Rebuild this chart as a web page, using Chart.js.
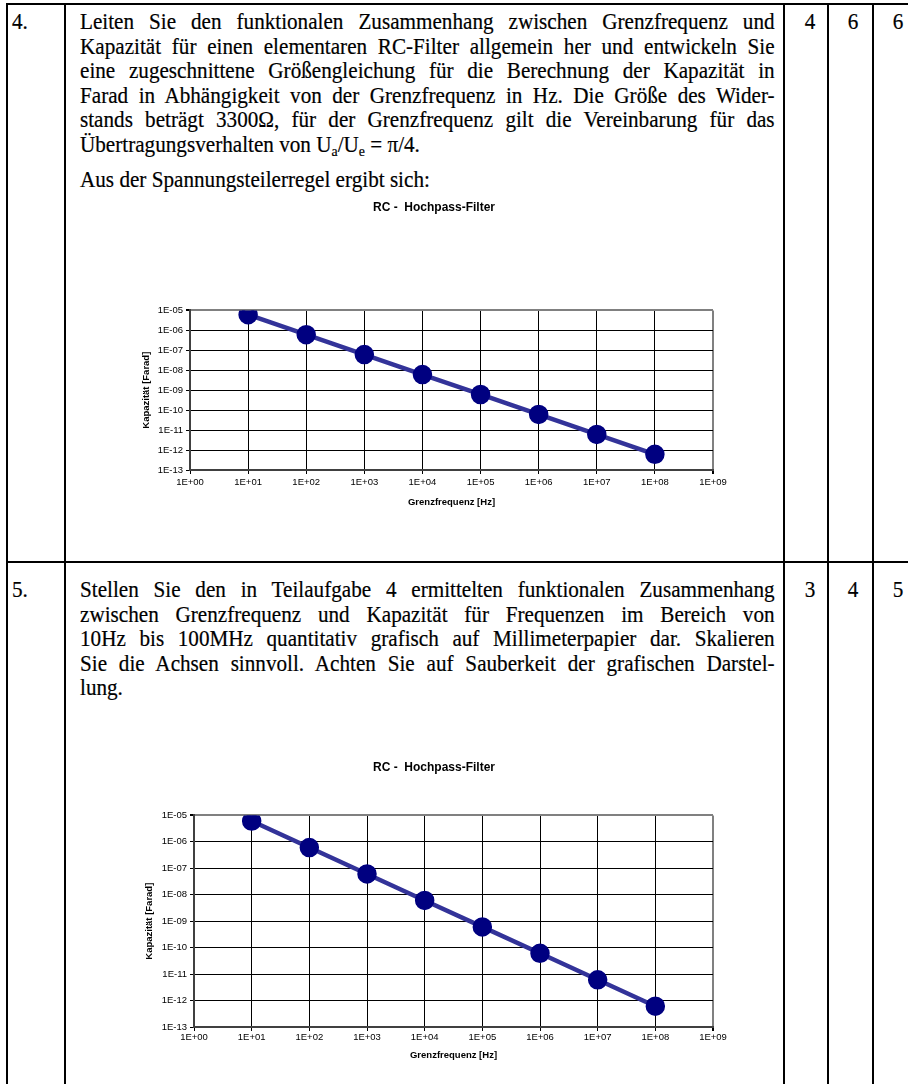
<!DOCTYPE html>
<html>
<head>
<meta charset="utf-8">
<script src="https://cdn.jsdelivr.net/npm/chart.js@4.4.1/dist/chart.umd.min.js"></script>
<style>
  html, body { margin: 0; padding: 0; background: #fff; }
  #page { position: relative; width: 908px; height: 1084px; overflow: hidden;
          font-family: "Liberation Serif", "Times New Roman", serif; font-size: 23px; color: #000;
          -webkit-text-stroke: 0.2px #000; }
  .ln { position: absolute; background: #000; }
  .txt { position: absolute; left: 80px; width: 755px; transform: scaleX(0.92); transform-origin: 0 0; }
  .txt div { height: 24.6px; line-height: 24.6px; text-align: justify; text-align-last: justify; white-space: nowrap; }
  .txt div.last { text-align-last: left; }
  .nr { position: absolute; left: 12px; line-height: 24.6px; transform: scaleX(0.92); transform-origin: 0 0; }
  .num { position: absolute; width: 44px; text-align: center; line-height: 24.6px; transform: scaleX(0.92); }
  .chart { position: absolute; left: 100px; width: 640px; height: 330px; }
  sub { font-size: 15px; vertical-align: -4px; line-height: 0; }
</style>
</head>
<body>
<div id="page">
  <!-- Tabellenrahmen -->
  <div class="ln" style="left:6px;top:3px;width:920px;height:2px"></div>
  <div class="ln" style="left:6px;top:561px;width:920px;height:2px"></div>
  <div class="ln" style="left:6px;top:3px;width:2px;height:1090px"></div>
  <div class="ln" style="left:64px;top:3px;width:2px;height:1090px"></div>
  <div class="ln" style="left:783px;top:3px;width:2px;height:1090px"></div>
  <div class="ln" style="left:827px;top:3px;width:2px;height:1090px"></div>
  <div class="ln" style="left:872px;top:3px;width:2px;height:1090px"></div>

  <!-- Aufgabe 4 -->
  <div class="nr" style="top:10px">4.</div>
  <div class="num" style="left:788px;top:10px">4</div>
  <div class="num" style="left:831px;top:10px">6</div>
  <div class="num" style="left:876px;top:10px">6</div>
  <div class="txt" style="top:10px">
    <div>Leiten Sie den funktionalen Zusammenhang zwischen Grenzfrequenz und</div>
    <div>Kapazität für einen elementaren RC-Filter allgemein her und entwickeln Sie</div>
    <div>eine zugeschnittene Größengleichung für die Berechnung der Kapazität in</div>
    <div>Farad in Abhängigkeit von der Grenzfrequenz in Hz. Die Größe des Wider-</div>
    <div>stands beträgt 3300Ω, für der Grenzfrequenz gilt die Vereinbarung für das</div>
    <div class="last">Übertragungsverhalten von U<sub>a</sub>/U<sub>e</sub> = π/4.</div>
  </div>
  <div class="txt" style="top:168px">
    <div class="last">Aus der Spannungsteilerregel ergibt sich:</div>
  </div>
  <div class="chart" style="top:190px"><canvas id="chart1"></canvas></div>

  <!-- Aufgabe 5 -->
  <div class="nr" style="top:578px">5.</div>
  <div class="num" style="left:788px;top:578px">3</div>
  <div class="num" style="left:831px;top:578px">4</div>
  <div class="num" style="left:876px;top:578px">5</div>
  <div class="txt" style="top:578px">
    <div>Stellen Sie den in Teilaufgabe 4 ermittelten funktionalen Zusammenhang</div>
    <div>zwischen Grenzfrequenz und Kapazität für Frequenzen im Bereich von</div>
    <div>10Hz bis 100MHz quantitativ grafisch auf Millimeterpapier dar. Skalieren</div>
    <div>Sie die Achsen sinnvoll. Achten Sie auf Sauberkeit der grafischen Darstel-</div>
    <div class="last">lung.</div>
  </div>
  <div class="chart" style="top:750px"><canvas id="chart2"></canvas></div>
</div>

<script>
// Werte
const frequenz = [1e1, 1e2, 1e3, 1e4, 1e5, 1e6, 1e7, 1e8];
const kapazitaet = [6.1e-6, 6.1e-7, 6.1e-8, 6.1e-9, 6.1e-10, 6.1e-11, 6.1e-12, 6.1e-13];

const xTickValues = [1e0, 1e1, 1e2, 1e3, 1e4, 1e5, 1e6, 1e7, 1e8, 1e9];
const xTickLabels = ['1E+00', '1E+01', '1E+02', '1E+03', '1E+04', '1E+05', '1E+06', '1E+07', '1E+08', '1E+09'];
const yTickValues = [1e-13, 1e-12, 1e-11, 1e-10, 1e-9, 1e-8, 1e-7, 1e-6, 1e-5];
const yTickLabels = ['1E-13', '1E-12', '1E-11', '1E-10', '1E-09', '1E-08', '1E-07', '1E-06', '1E-05'];

const chartTitle = 'RC -  Hochpass-Filter';
const xTitle = 'Grenzfrequenz [Hz]';
const yTitle = 'Kapazität [Farad]';

Chart.defaults.font.family = '"Liberation Sans", Arial, sans-serif';
Chart.defaults.color = '#000';

function makeChart(id, g) {
    const ctx = document.getElementById(id).getContext('2d');
    return new Chart(ctx, {
        type: 'line',
        data: {
            datasets: [{
                data: frequenz.map((f, i) => ({ x: f, y: kapazitaet[i] })),
                borderColor: '#333399',
                borderWidth: 4.5,
                backgroundColor: '#000080',
                pointBackgroundColor: '#000080',
                pointBorderColor: '#000080',
                pointRadius: 7.5,
                tension: 0
            }]
        },
        options: {
            responsive: true,
            maintainAspectRatio: false,
            animation: false,
            layout: { padding: { left: 55, right: 27, top: 0, bottom: 0 } },
            plugins: {
                legend: { display: false },
                tooltip: { enabled: false },
                title: {
                    display: true,
                    text: chartTitle,
                    font: { size: 12, weight: 'bold' },
                    padding: { top: 10, bottom: g.titleBottom }
                }
            },
            scales: {
                x: {
                    type: 'logarithmic',
                    min: 1e0,
                    max: 1e9,
                    afterBuildTicks: s => { s.ticks = xTickValues.map(v => ({ value: v })); },
                    afterFit: s => { s.height = g.xHeight; },
                    ticks: {
                        autoSkip: false, maxRotation: 0, padding: g.xTickPad,
                        font: { size: 9.5 },
                        callback: (v, i) => xTickLabels[i]
                    },
                    grid: {
                        color: c => c.index === xTickValues.length - 1 ? '#808080' : '#000',
                        lineWidth: c => c.index === xTickValues.length - 1 ? 2 : 1,
                        tickColor: '#000',
                        tickLength: 4
                    },
                    border: { color: '#404040', width: 2 },
                    title: {
                        display: true, text: xTitle,
                        font: { size: 9.5, weight: 'bold' },
                        padding: { top: 0, bottom: g.xTitlePad }
                    }
                },
                y: {
                    type: 'logarithmic',
                    min: 1e-13,
                    max: 1e-5,
                    afterBuildTicks: s => { s.ticks = yTickValues.map(v => ({ value: v })); },
                    afterFit: s => { s.width = g.yWidth; },
                    ticks: {
                        autoSkip: false, padding: 3,
                        font: { size: 9.5 },
                        callback: (v, i) => yTickLabels[i]
                    },
                    grid: {
                        color: c => c.index === yTickValues.length - 1 ? '#808080' : '#000',
                        lineWidth: c => c.index === yTickValues.length - 1 ? 2 : 1,
                        tickColor: '#000',
                        tickLength: 4
                    },
                    border: { color: '#404040', width: 2 },
                    title: {
                        display: true, text: yTitle,
                        font: { size: 9.5, weight: 'bold' },
                        padding: { top: g.yTitlePad, bottom: 0 }
                    }
                }
            }
        }
    });
}

makeChart('chart1', { titleBottom: 96, xHeight: 50, xTickPad: 3, xTitlePad: 12, yWidth: 35, yTitlePad: -14 });
makeChart('chart2', { titleBottom: 41, xHeight: 53, xTickPad: 1, xTitlePad: 19, yWidth: 39, yTitlePad: -11 });
</script>
</body>
</html>
